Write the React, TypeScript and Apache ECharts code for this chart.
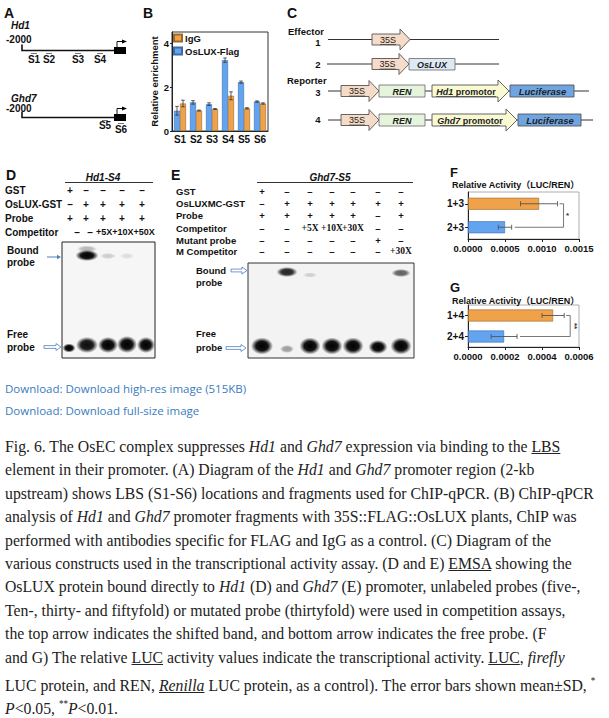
import React, { useEffect, useRef } from "react";
import * as echarts from "echarts";

// ---------- Panel B: ChIP-qPCR ----------
const sites = ["S1", "S2", "S3", "S4", "S5", "S6"];
const osluxFlag = [0.92, 1.3, 1.22, 3.22, 2.22, 1.34];
const osluxFlagSd = [0.2, 0.08, 0.06, 0.1, 0.05, 0.03];
const iggVals = [1.25, 0.93, 1.0, 1.6, 1.03, 1.25];
const iggSd = [0.15, 0.02, 0.02, 0.18, 0.03, 0.03];
const enrichTicks = [0, 2, 4];

// ---------- Panel F ----------
const fCats = ["2+3", "1+3"];
const fVals = [0.0005, 0.00096];
const fSd = [0.00009, 0.00025];
const fTicks = [0, 0.0005, 0.001, 0.0015];
const fSig = "*";

// ---------- Panel G ----------
const gCats = ["2+4", "1+4"];
const gVals = [0.000195, 0.00046];
const gSd = [0.00007, 0.00006];
const gTicks = [0, 0.0002, 0.0004, 0.0006];
const gSig = "**";

const ORANGE = "#F0A24B";
const BLUE = "#62A4F0";
const FF = '"Liberation Sans", Arial, sans-serif';
const SERIF = '"Liberation Serif", "Times New Roman", serif';

function txt(x: number, y: number, text: string, o: any = {}) {
  return {
    type: "text",
    x,
    y,
    silent: true,
    rotation: o.rotation || 0,
    style: {
      text,
      fill: o.fill || "#111",
      fontSize: o.size || 10,
      fontWeight: o.weight || "bold",
      fontStyle: o.italic ? "italic" : "normal",
      fontFamily: o.family || FF,
      textAlign: o.align || "left",
      textVerticalAlign: "middle",
      rich: o.rich,
    },
  };
}
function ln(x1: number, y1: number, x2: number, y2: number, w = 1, c = "#111") {
  return { type: "line", silent: true, shape: { x1, y1, x2, y2 }, style: { stroke: c, lineWidth: w } };
}
function rect(x: number, y: number, w: number, h: number, fill: any, stroke?: string, lw = 0.8) {
  return {
    type: "rect",
    silent: true,
    shape: { x, y, width: w, height: h },
    style: { fill, stroke: stroke || null, lineWidth: stroke ? lw : 0 },
  };
}
function poly(points: number[][], fill: any, stroke?: string, lw = 0.8) {
  return {
    type: "polygon",
    silent: true,
    shape: { points },
    style: { fill, stroke: stroke || null, lineWidth: stroke ? lw : 0 },
  };
}
function pline(points: number[][], w = 1, c = "#111") {
  return { type: "polyline", silent: true, shape: { points }, style: { stroke: c, lineWidth: w, fill: null } };
}
function band(cx: number, cy: number, w: number, h: number, a: number) {
  return {
    type: "rect",
    silent: true,
    shape: { x: cx - w / 2, y: cy - h / 2, width: w, height: h },
    style: {
      fill: new echarts.graphic.RadialGradient(0.5, 0.5, 0.5, [
        { offset: 0, color: `rgba(0,0,0,${a})` },
        { offset: 0.55, color: `rgba(0,0,0,${a * 0.92})` },
        { offset: 1, color: "rgba(0,0,0,0)" },
      ]),
    },
  };
}
function hollowArrow(x1: number, x2: number, y: number, c = "#4f7fc0") {
  return poly(
    [
      [x1, y - 1.4],
      [x2 - 5, y - 1.4],
      [x2 - 5, y - 3.5],
      [x2, y],
      [x2 - 5, y + 3.5],
      [x2 - 5, y + 1.4],
      [x1, y + 1.4],
    ],
    "#fff",
    c,
    0.8
  );
}
function arrowBox(x0: number, xb: number, tip: number, yc: number, h: number, fill: string) {
  const t = yc - h / 2;
  const b = yc + h / 2;
  return poly(
    [
      [x0, t],
      [xb, t],
      [xb, t - 5],
      [tip, yc],
      [xb, b + 5],
      [xb, b],
      [x0, b],
    ],
    fill,
    "#555",
    0.9
  );
}

function buildGraphics() {
  const els: any[] = [];
  // ----- Panel A -----
  els.push(txt(4, 13, "A", { size: 14 }));
  const gene = (yName: number, yNum: number, yLine: number, name: string) => {
    els.push(txt(11, yName, name, { italic: true, size: 10 }));
    els.push(txt(6, yNum, "-2000", { size: 10 }));
    els.push(pline([[22, yLine - 6], [22, yLine], [115, yLine]], 1.6));
    els.push(rect(114, yLine - 3.5, 12, 7, "#000"));
    els.push(pline([[117, yLine - 3.5], [117, yLine - 9], [123, yLine - 9]], 1));
    els.push(poly([[122, yLine - 11], [127, yLine - 9], [122, yLine - 7]], "#000"));
  };
  gene(25, 39, 50.5, "Hd1");
  gene(98, 108, 117.5, "Ghd7");
  const sMarks = [
    ["S1", 34, 53.5, 59],
    ["S2", 49, 53.5, 59],
    ["S3", 78, 53.5, 59],
    ["S4", 100, 53.5, 59],
    ["S5", 105, 120.5, 125.5],
    ["S6", 121, 123.5, 129],
  ];
  sMarks.forEach(([s, x, ym, yl]: any) => {
    els.push(ln(x - 3, ym, x + 3, ym, 1, "#777"));
    els.push(txt(x, yl, s, { align: "center", size: 10 }));
  });

  // ----- Panel B letter -----
  els.push(txt(143, 13, "B", { size: 14 }));

  // ----- Panel C -----
  els.push(txt(287, 13, "C", { size: 14 }));
  els.push(txt(288, 31, "Effector", { size: 9.5 }));
  els.push(txt(287, 80, "Reporter", { size: 9.5 }));
  const rowNum = (n: string, y: number) => els.push(txt(318, y, n, { size: 9.5, align: "center" }));
  rowNum("1", 42);
  rowNum("2", 64);
  rowNum("3", 92);
  rowNum("4", 119);
  const ital = { i: { fontStyle: "italic", fontWeight: "bold", fontSize: 9, fontFamily: FF, fill: "#222" } };
  const s35 = (x0: number, xb: number, tip: number, y: number) => {
    els.push(arrowBox(x0, xb, tip, y, 11, "#F6DCC8"));
    const cx = (x0 + xb) / 2 + 2;
    els.push(txt(cx, y, "35S", { size: 9, align: "center", fill: "#222", weight: "normal" }));
    els.push(ln(cx - 8, y + 5, cx + 8, y + 5, 0.7, "#333"));
  };
  // row 1
  els.push(ln(328, 39.5, 499, 39.5, 1, "#333"));
  s35(372, 400, 410, 39.5);
  // row 2
  els.push(ln(327, 64, 499, 64, 1, "#333"));
  s35(372, 399, 409, 64);
  els.push(rect(409, 58.5, 46, 11.5, "#DDEAF6", "#777", 0.9));
  els.push(txt(432, 64.5, "OsLUX", { italic: true, size: 9, align: "center", fill: "#222" }));
  // rows 3/4
  const reporter = (y: number, prom: string, pEnd: number, pTip: number, lucEnd: number, lineEnd: number) => {
    els.push(ln(328, y, lineEnd, y, 1, "#333"));
    s35(341, 369, 379, y);
    els.push(rect(379, y - 6, 46, 12, "#E6F4DC", "#777", 0.9));
    els.push(txt(402, y + 0.5, "REN", { italic: true, size: 9, align: "center", fill: "#222" }));
    els.push(arrowBox(432, pEnd, pTip, y, 12, "#FAFAD2"));
    const pc = (432 + pEnd) / 2 + 1;
    els.push(
      txt(pc, y + 0.5, `{i|${prom}} promotor`, { size: 9, align: "center", fill: "#222", rich: ital })
    );
    els.push(ln(pc - 30, y + 5.5, pc + 30, y + 5.5, 0.7, "#333"));
    els.push(rect(pTip + 1, y - 6, lucEnd - pTip - 1, 12, "#6FA6E2", "#555", 0.9));
    els.push(
      txt((pTip + lucEnd) / 2 + 1, y + 0.5, "Luciferase", { italic: true, size: 9.5, align: "center", fill: "#222" })
    );
  };
  reporter(91, "Hd1", 498, 509, 574, 589);
  reporter(120, "Ghd7", 506, 517, 581, 593);

  // ----- Panel D -----
  els.push(txt(6, 175, "D", { size: 14 }));
  els.push(txt(103, 177, "Hd1-S4", { italic: true, size: 10, align: "center" }));
  els.push(ln(65, 182.5, 153, 182.5, 1, "#333"));
  const dRows = [
    ["GST", 190, ["+", "–", "–", "–", "–"]],
    ["OsLUX-GST", 204, ["–", "+", "+", "+", "+"]],
    ["Probe", 218, ["+", "+", "+", "+", "+"]],
  ];
  const dCols = [70, 86, 103, 122, 142];
  dRows.forEach(([lab, y, marks]: any) => {
    els.push(txt(5, y, lab, { size: 10 }));
    marks.forEach((m: string, i: number) => els.push(txt(dCols[i], y, m, { size: 10, align: "center" })));
  });
  els.push(txt(5, 232, "Competitor", { size: 10 }));
  els.push(txt(77, 232, "–", { size: 10, align: "center" }));
  els.push(txt(90, 232, "–", { size: 10, align: "center" }));
  els.push(txt(96, 232, "+5X+10X+50X", { size: 9, align: "left" }));
  // gel D
  els.push(rect(62, 242, 93, 116, "#F6F6F6", "#222", 1));
  els.push(band(87, 249, 20, 7, 0.25));
  els.push(band(87, 255.5, 23, 11, 1));
  els.push(band(108, 256, 16, 6, 0.16));
  els.push(band(127, 256, 14, 6, 0.1));
  els.push(band(69, 348, 13, 9, 1));
  els.push(band(87, 345, 22, 16, 0.95));
  els.push(band(108, 345, 20, 16, 1));
  els.push(band(127, 344.5, 20, 17, 1));
  els.push(band(146, 345, 18, 16, 1));
  els.push(txt(7, 250, "Bound", { size: 10 }));
  els.push(txt(7, 262, "probe", { size: 10 }));
  els.push(ln(47, 257, 58, 257, 1, "#4f7fc0"));
  els.push(poly([[57, 254.8], [61, 257], [57, 259.2]], "#4f7fc0"));
  els.push(txt(7, 334, "Free", { size: 10 }));
  els.push(txt(7, 347, "probe", { size: 10 }));
  els.push(hollowArrow(44, 61, 347));

  // ----- Panel E -----
  els.push(txt(171, 175, "E", { size: 14 }));
  els.push(txt(330, 177, "Ghd7-S5", { italic: true, size: 10, align: "center" }));
  els.push(ln(257, 182.5, 413, 182.5, 1, "#333"));
  const eCols = [262, 287, 310, 332, 353, 378, 401];
  const eRows = [
    ["GST", 191, ["+", "–", "–", "–", "–", "–", "–"]],
    ["OsLUXMC-GST", 203, ["–", "+", "+", "+", "+", "+", "+"]],
    ["Probe", 215, ["+", "+", "+", "+", "+", "–", "+"]],
    ["Competitor", 228, ["–", "–", "+5X", "+10X", "+30X", "–", "–"]],
    ["Mutant probe", 240, ["–", "–", "–", "–", "–", "+", "–"]],
    ["M Competitor", 251, ["–", "–", "–", "–", "–", "–", "+30X"]],
  ];
  eRows.forEach(([lab, y, marks]: any) => {
    els.push(txt(176, y, lab, { size: 9.5 }));
    marks.forEach((m: string, i: number) =>
      els.push(
        txt(eCols[i], y, m, {
          size: 9.5,
          align: "center",
          family: m.length > 1 ? SERIF : FF,
        })
      )
    );
  });
  // gel E
  els.push(rect(248, 263, 166, 95, "#F3F3F3", "#333", 1));
  els.push(band(287, 272, 21, 10, 0.85));
  els.push(band(310, 275, 14, 5, 0.15));
  els.push(band(401, 273, 19, 8, 0.6));
  els.push(band(262, 346, 22, 17, 1));
  els.push(band(287, 349, 14, 8, 0.35));
  els.push(band(310, 346, 21, 17, 1));
  els.push(band(332, 346, 21, 17, 1));
  els.push(band(353, 346, 21, 17, 1));
  els.push(band(378, 347, 19, 14, 1));
  els.push(band(401, 346, 21, 17, 1));
  els.push(txt(196, 270, "Bound", { size: 9.5 }));
  els.push(txt(196, 282, "probe", { size: 9.5 }));
  els.push(hollowArrow(231, 247, 270.5));
  els.push(txt(196, 333, "Free", { size: 9.5 }));
  els.push(txt(196, 347, "probe", { size: 9.5 }));
  els.push(hollowArrow(226, 246, 348));

  // ----- Panels F, G headings -----
  els.push(txt(450, 172, "F", { size: 13 }));
  els.push(txt(452, 185, "Relative Activity（LUC/REN）", { size: 9, family: FF + ', "Noto Sans CJK SC"' }));
  els.push(txt(450, 287, "G", { size: 13 }));
  els.push(txt(452, 300.5, "Relative Activity（LUC/REN）", { size: 9, family: FF + ', "Noto Sans CJK SC"' }));
  return els;
}

const vErr = (offset: number) => (params: any, api: any) => {
  const i = api.value(0);
  const v = api.value(1);
  const e = api.value(2);
  const t = api.coord([i, v + e]);
  const b = api.coord([i, v - e]);
  const x = t[0] + offset;
  const st = { stroke: "#333", lineWidth: 0.8 };
  return {
    type: "group",
    children: [
      { type: "line", shape: { x1: x, y1: t[1], x2: x, y2: b[1] }, style: st },
      { type: "line", shape: { x1: x - 1.8, y1: t[1], x2: x + 1.8, y2: t[1] }, style: st },
      { type: "line", shape: { x1: x - 1.8, y1: b[1], x2: x + 1.8, y2: b[1] }, style: st },
    ],
  };
};
const hErr = (params: any, api: any) => {
  const v = api.value(0);
  const i = api.value(1);
  const e = api.value(2);
  const l = api.coord([v - e, i]);
  const r = api.coord([v + e, i]);
  const st = { stroke: "#555", lineWidth: 0.9 };
  return {
    type: "group",
    children: [
      { type: "line", shape: { x1: l[0], y1: l[1], x2: r[0], y2: r[1] }, style: st },
      { type: "line", shape: { x1: l[0], y1: l[1] - 2.5, x2: l[0], y2: l[1] + 2.5 }, style: st },
      { type: "line", shape: { x1: r[0], y1: r[1] - 2.5, x2: r[0], y2: r[1] + 2.5 }, style: st },
    ],
  };
};
const bracket = (vals: number[], sd: number[], sig: string, rot: number) => (params: any, api: any) => {
  const top = api.coord([vals[1] + sd[1], 1]);
  const bot = api.coord([vals[0] + sd[0], 0]);
  const xr = Math.max(top[0], bot[0]) + 6;
  return {
    type: "group",
    children: [
      {
        type: "polyline",
        shape: { points: [[top[0] + 2, top[1]], [xr, top[1]], [xr, bot[1]], [bot[0] + 3, bot[1]]] },
        style: { stroke: "#555", lineWidth: 0.8, fill: "none" },
      },
      {
        type: "text",
        x: xr + 4,
        y: (top[1] + bot[1]) / 2,
        rotation: rot,
        style: {
          text: sig,
          fill: "#333",
          fontSize: 8,
          fontWeight: "bold",
          fontFamily: FF,
          textAlign: "center",
          textVerticalAlign: "middle",
        },
      },
    ],
  };
};

function hAxisPair(grid: number, max: number, interval: number, cats: string[]) {
  const x = {
    type: "value",
    gridIndex: grid,
    min: 0,
    max,
    interval,
    splitLine: { show: false },
    axisLine: { show: true, lineStyle: { color: "#222", width: 1 } },
    axisTick: { show: true, length: 3, lineStyle: { color: "#222" } },
    axisLabel: {
      fontSize: 9.5,
      fontWeight: "bold",
      color: "#111",
      fontFamily: FF,
      margin: 4,
      formatter: (v: number) => v.toFixed(4),
    },
  };
  const y = {
    type: "category",
    gridIndex: grid,
    data: cats,
    axisLine: { show: true, lineStyle: { color: "#222", width: 1 } },
    axisTick: { show: true, length: 3, alignWithLabel: true, lineStyle: { color: "#222" } },
    axisLabel: { fontSize: 10, fontWeight: "bold", color: "#111", fontFamily: FF, margin: 4 },
  };
  return { x, y };
}

function buildOption() {
  const fAx = hAxisPair(1, fTicks[fTicks.length - 1], fTicks[1] - fTicks[0], fCats);
  const gAx = hAxisPair(2, gTicks[gTicks.length - 1], gTicks[1] - gTicks[0], gCats);
  const colorOf = (i: number) => (i === 1 ? ORANGE : BLUE);
  const borderOf = (i: number) => (i === 1 ? "#9a6a2c" : "#3d6aa8");
  return {
    animation: false,
    backgroundColor: "#fff",
    legend: {
      data: ["IgG", "OsLUX-Flag"],
      orient: "vertical",
      left: 173,
      top: 33,
      padding: 0,
      itemWidth: 8,
      itemHeight: 7,
      itemGap: 3,
      icon: "rect",
      textStyle: { fontSize: 9.5, fontWeight: "bold", fontFamily: FF, color: "#111", padding: [0, 0, 0, -2] },
    },
    grid: [
      { left: 172, top: 32, width: 96, height: 99, show: true, borderColor: "#333", borderWidth: 1, backgroundColor: "transparent" },
      { left: 468, top: 192, width: 111, height: 47, show: true, borderColor: "#999", borderWidth: 0.8, backgroundColor: "transparent" },
      { left: 468, top: 305, width: 111, height: 42, show: true, borderColor: "#999", borderWidth: 0.8, backgroundColor: "transparent" },
    ],
    xAxis: [
      {
        type: "category",
        gridIndex: 0,
        data: sites,
        axisLine: { lineStyle: { color: "#222" } },
        axisTick: { show: false },
        axisLabel: { fontSize: 10, fontWeight: "bold", color: "#111", fontFamily: FF, margin: 3 },
      },
      fAx.x,
      gAx.x,
    ],
    yAxis: [
      {
        type: "value",
        gridIndex: 0,
        min: 0,
        max: 4.5,
        interval: 2,
        name: "Relative enrichment",
        nameLocation: "middle",
        nameGap: 11,
        nameTextStyle: { fontSize: 9.5, fontWeight: "bold", fontFamily: FF, color: "#111" },
        splitLine: { show: false },
        axisLine: { show: true, lineStyle: { color: "#222" } },
        axisTick: { show: true, length: 2, customValues: enrichTicks },
        axisLabel: {
          customValues: enrichTicks,
          fontSize: 9.5,
          fontWeight: "bold",
          color: "#111",
          fontFamily: FF,
          margin: 3,
        },
      },
      fAx.y,
      gAx.y,
    ],
    series: [
      {
        name: "OsLUX-Flag",
        type: "bar",
        xAxisIndex: 0,
        yAxisIndex: 0,
        data: osluxFlag,
        barWidth: 6,
        barGap: "0%",
        itemStyle: { color: BLUE, borderColor: "#3d6aa8", borderWidth: 0.6 },
      },
      {
        name: "IgG",
        type: "bar",
        xAxisIndex: 0,
        yAxisIndex: 0,
        data: iggVals,
        barWidth: 6,
        barGap: "0%",
        itemStyle: { color: ORANGE, borderColor: "#9a6a2c", borderWidth: 0.6 },
      },
      {
        type: "custom",
        xAxisIndex: 0,
        yAxisIndex: 0,
        renderItem: vErr(-3),
        data: osluxFlag.map((v, i) => [i, v, osluxFlagSd[i]]),
        z: 5,
      },
      {
        type: "custom",
        xAxisIndex: 0,
        yAxisIndex: 0,
        renderItem: vErr(3),
        data: iggVals.map((v, i) => [i, v, iggSd[i]]),
        z: 5,
      },
      {
        type: "bar",
        xAxisIndex: 1,
        yAxisIndex: 1,
        barWidth: 12,
        data: fVals.map((v, i) => ({ value: v, itemStyle: { color: colorOf(i), borderColor: borderOf(i), borderWidth: 0.6 } })),
      },
      {
        type: "custom",
        xAxisIndex: 1,
        yAxisIndex: 1,
        renderItem: hErr,
        encode: { x: 0, y: 1 },
        data: fVals.map((v, i) => [v, i, fSd[i]]),
        z: 5,
      },
      {
        type: "custom",
        xAxisIndex: 1,
        yAxisIndex: 1,
        renderItem: bracket(fVals, fSd, fSig, 0),
        encode: { x: 0, y: 1 },
        data: [[0, 0]],
        z: 5,
      },
      {
        type: "bar",
        xAxisIndex: 2,
        yAxisIndex: 2,
        barWidth: 12,
        data: gVals.map((v, i) => ({ value: v, itemStyle: { color: colorOf(i), borderColor: borderOf(i), borderWidth: 0.6 } })),
      },
      {
        type: "custom",
        xAxisIndex: 2,
        yAxisIndex: 2,
        renderItem: hErr,
        encode: { x: 0, y: 1 },
        data: gVals.map((v, i) => [v, i, gSd[i]]),
        z: 5,
      },
      {
        type: "custom",
        xAxisIndex: 2,
        yAxisIndex: 2,
        renderItem: bracket(gVals, gSd, gSig, -Math.PI / 2),
        encode: { x: 0, y: 1 },
        data: [[0, 0]],
        z: 5,
      },
    ],
    graphic: { elements: buildGraphics() },
  };
}

const capLines: React.ReactNode[] = [
  <>Fig. 6. The OsEC complex suppresses <i>Hd1</i> and <i>Ghd7</i> expression via binding to the <u>LBS</u></>,
  <>element in their promoter. (A) Diagram of the <i>Hd1</i> and <i>Ghd7</i> promoter region (2-kb</>,
  <>upstream) shows LBS (S1-S6) locations and fragments used for ChIP-qPCR. (B) ChIP-qPCR</>,
  <>analysis of <i>Hd1</i> and <i>Ghd7</i> promoter fragments with 35S::FLAG::OsLUX plants, ChIP was</>,
  <>performed with antibodies specific for FLAG and IgG as a control. (C) Diagram of the</>,
  <>various constructs used in the transcriptional activity assay. (D and E) <u>EMSA</u> showing the</>,
  <>OsLUX protein bound directly to <i>Hd1</i> (D) and <i>Ghd7</i> (E) promoter, unlabeled probes (five-,</>,
  <>Ten-, thirty- and fiftyfold) or mutated probe (thirtyfold) were used in competition assays,</>,
  <>the top arrow indicates the shifted band, and bottom arrow indicates the free probe. (F</>,
  <>and G) The relative <u>LUC</u> activity values indicate the transcriptional activity. <u>LUC</u>, <i>firefly</i></>,
  <>LUC protein, and REN, <u><i>Renilla</i></u> LUC protein, as a control). The error bars shown mean±SD, <sup style={{ fontSize: 10 }}>*</sup></>,
  <><i>P</i>&lt;0.05, <sup style={{ fontSize: 10 }}>**</sup><i>P</i>&lt;0.01.</>,
];

export default function App() {
  const ref = useRef<HTMLDivElement>(null);
  useEffect(() => {
    if (!ref.current) return;
    const chart = echarts.init(ref.current, undefined, { renderer: "svg" });
    chart.setOption(buildOption() as any);
    return () => chart.dispose();
  }, []);
  return (
    <div style={{ position: "absolute", left: 0, top: 0, width: 609, height: 718, overflow: "hidden", background: "#fff" }}>
      <div ref={ref} style={{ position: "absolute", left: 0, top: 0, width: 609, height: 372 }} />
      <div
        style={{
          position: "absolute",
          left: 5,
          top: 378,
          fontFamily: '"Open Sans", "Noto Sans", sans-serif',
          fontSize: 11.5,
          lineHeight: "22px",
          color: "#3a7cc0",
          whiteSpace: "nowrap",
        }}
      >
        <div>Download: Download high-res image (515KB)</div>
        <div>Download: Download full-size image</div>
      </div>
      <div
        style={{
          position: "absolute",
          left: 5,
          top: 435,
          fontFamily: SERIF,
          fontSize: 17.5,
          lineHeight: "23.4px",
          color: "#222",
          whiteSpace: "nowrap",
          transform: "scaleX(0.9)",
          transformOrigin: "0 0",
        }}
      >
        {capLines.map((l, i) => (
          <div key={i} style={{ height: 23.4 }}>
            {l}
          </div>
        ))}
      </div>
    </div>
  );
}
